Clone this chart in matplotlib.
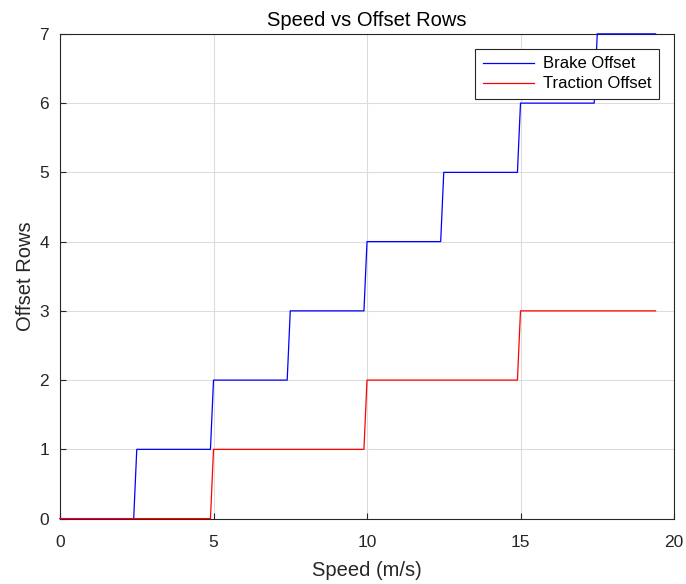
import matplotlib.pyplot as plt

plt.rcParams['font.family'] = ['Liberation Sans', 'DejaVu Sans']

# Step data: speed samples (m/s) around each jump and the offset rows
brake_speed = [0, 2.4, 2.5, 4.9, 5.0, 7.4, 7.5, 9.9, 10.0, 12.4, 12.5,
               14.9, 15.0, 17.4, 17.5, 19.4]
brake_rows = [0, 0, 1, 1, 2, 2, 3, 3, 4, 4, 5, 5, 6, 6, 7, 7]

traction_speed = [0, 4.9, 5.0, 9.9, 10.0, 14.9, 15.0, 19.4]
traction_rows = [0, 0, 1, 1, 2, 2, 3, 3]

x_ticks = [0, 5, 10, 15, 20]
y_ticks = [0, 1, 2, 3, 4, 5, 6, 7]

fig = plt.figure(figsize=(6.86, 5.84), dpi=100)
ax = fig.add_axes([0.0875, 0.112, 0.895, 0.830])

ax.plot(brake_speed, brake_rows, color='#0000ff', lw=0.9, label='Brake Offset',
        clip_on=False, zorder=3)
ax.plot(traction_speed, traction_rows, color='#ff0000', lw=0.9, label='Traction Offset',
        clip_on=False, zorder=3)

ax.set_xlim(0, 20)
ax.set_ylim(0, 7)
ax.set_xticks(x_ticks)
ax.set_yticks(y_ticks)
ax.grid(True, color='#dcdcdc', lw=0.8)
ax.set_axisbelow(True)
ax.tick_params(direction='in', length=4, labelsize=12.5, colors='#262626')
ax.tick_params(axis='x', pad=12)
ax.tick_params(axis='y', pad=8)
for s in ax.spines.values():
    s.set_color('#262626')
    s.set_linewidth(0.8)

ax.set_title('Speed vs Offset Rows', fontsize=14.5, color='#000000', pad=6)
ax.set_xlabel('Speed (m/s)', fontsize=14.5, color='#262626', labelpad=8)
ax.set_ylabel('Offset Rows', fontsize=14.5, color='#262626', labelpad=3)

leg = ax.legend(loc='upper right', fontsize=12, fancybox=False, framealpha=1,
                edgecolor='#262626', borderpad=0.45, handlelength=3.05,
                handletextpad=0.55, labelspacing=0.3, borderaxespad=0.9)
leg.get_frame().set_linewidth(0.8)
leg.set_zorder(5)

fig.savefig('out.png', dpi=100)
